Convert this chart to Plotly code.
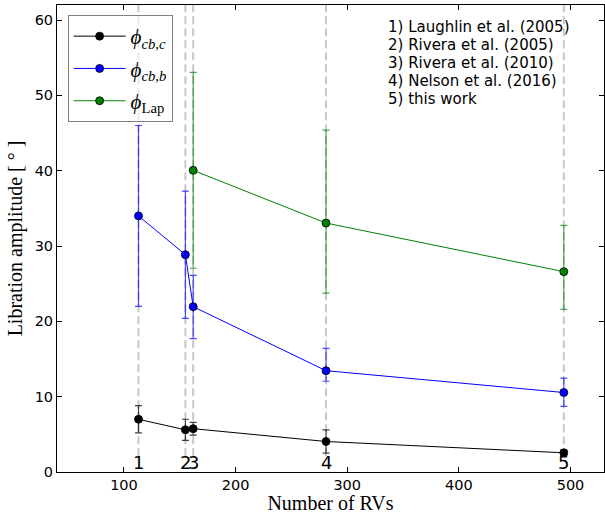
import plotly.graph_objects as go

# ---- data ----
nrv = [113, 155, 162, 281, 494]
ref_labels = ["1", "2", "3", "4", "5"]
references = [
    "1) Laughlin et al. (2005)",
    "2) Rivera et al. (2005)",
    "3) Rivera et al. (2010)",
    "4) Nelson et al. (2016)",
    "5) this work",
]

phi_cbc = [7.0, 5.6, 5.75, 4.05, 2.55]
phi_cbc_err = [1.8, 1.4, 0.85, 1.55, 0.4]

phi_cbb = [34.0, 28.85, 21.95, 13.45, 10.55]
phi_cbb_err_plus = [12.0, 8.45, 4.15, 2.95, 1.9]
phi_cbb_err_minus = [12.0, 8.45, 4.25, 1.4, 1.85]

nrv_lap = [162, 281, 494]
phi_lap = [40.05, 33.05, 26.6]
phi_lap_err_plus = [13.0, 12.35, 6.15]
phi_lap_err_minus = [13.0, 9.3, 5.0]

x_range = [40, 530]
y_range = [0, 62]
x_ticks = [100, 200, 300, 400, 500]
y_ticks = [0, 10, 20, 30, 40, 50, 60]

SERIF = "Liberation Serif, DejaVu Serif, serif"
SANS = "DejaVu Sans, sans-serif"

W, H = 605, 514

fig = go.Figure()

series = [
    (nrv, phi_cbc, phi_cbc_err, phi_cbc_err, "black", "rgba(0,0,0,0.75)",
     "<i>ϕ</i><sub><i>cb,c</i></sub>"),
    (nrv, phi_cbb, phi_cbb_err_plus, phi_cbb_err_minus, "#0000ff", "rgba(0,0,255,0.7)",
     "<i>ϕ</i><sub><i>cb,b</i></sub>"),
    (nrv_lap, phi_lap, phi_lap_err_plus, phi_lap_err_minus, "#008000", "rgba(0,128,0,0.7)",
     "<i>ϕ</i><sub>Lap</sub>"),
]

for i, (xs, ys, ep, em, col, ecol, name) in enumerate(series):
    fig.add_trace(go.Scatter(
        x=xs, y=ys, mode="lines+markers", name=name,
        legendgroup="g%d" % i,
        line=dict(color=col, width=1),
        marker=dict(symbol="circle", size=8, color=col,
                    line=dict(color="black", width=0.8)),
        error_y=dict(type="data", symmetric=False, array=ep, arrayminus=em,
                     color=ecol, thickness=1.2, width=3.5),
    ))

# dashed vertical reference lines + numbers
for xv, lab in zip(nrv, ref_labels):
    fig.add_shape(type="line", xref="x", yref="y", x0=xv, x1=xv, y0=2.1, y1=y_range[1],
                  line=dict(color="#c8c8c8", width=2, dash="8px,4px"), layer="below")
    fig.add_annotation(x=xv, y=0, xref="x", yref="y", text=lab, showarrow=False,
                       yanchor="bottom", xanchor="center", yshift=-3,
                       font=dict(family=SANS, size=18, color="black"))

# reference list (top right)
plot_top, plot_bottom = 5.0, 471.7
for k, txt in enumerate(references):
    yc = 26.7 + 18.15 * k
    fig.add_annotation(x=0.602, y=(plot_bottom - yc) / (plot_bottom - plot_top),
                       xref="paper", yref="paper", text=txt, showarrow=False,
                       xanchor="left", yanchor="middle",
                       font=dict(family=SANS, size=15, color="black"))

axis_common = dict(
    showgrid=False, zeroline=False, showline=True, linecolor="black", linewidth=1,
    mirror="ticks", ticks="inside", ticklen=5, tickwidth=1, tickcolor="black",
    tickfont=dict(family=SANS, size=14.5, color="black"), automargin=False,
)

fig.update_layout(
    width=W, height=H, autosize=False,
    margin=dict(l=57, r=1, t=5, b=42),
    plot_bgcolor="white", paper_bgcolor="white",
    showlegend=True,
    legend=dict(
        x=0.0194, y=0.9786, xanchor="left", yanchor="top",
        bgcolor="rgba(255,255,255,0.6)", bordercolor="#808080", borderwidth=1,
        font=dict(family=SERIF, size=21, color="black"),
        tracegroupgap=2, itemwidth=52,
    ),
    xaxis=dict(range=x_range, tickvals=x_ticks,
               title=dict(text="Number of RVs", standoff=4,
                          font=dict(family=SERIF, size=20, color="black")),
               **axis_common),
    yaxis=dict(range=y_range, tickvals=y_ticks,
               title=dict(text="Libration amplitude [ ° ]", standoff=6,
                          font=dict(family=SERIF, size=20, color="black")),
               **axis_common),
)

post = (
    "document.documentElement.style.margin='0';"
    "document.documentElement.style.overflow='hidden';"
    "document.body.style.margin='0';document.body.style.padding='0';"
    "document.body.style.overflow='hidden';"
    "var gd=document.getElementById('{plot_id}');"
    "gd.style.width='%dpx';gd.style.height='%dpx';"
    "Plotly.relayout(gd,{width:%d,height:%d});" % (W, H, W, H)
)

fig.write_html("out.html", config={"responsive": False, "displayModeBar": False},
               post_script=post)
